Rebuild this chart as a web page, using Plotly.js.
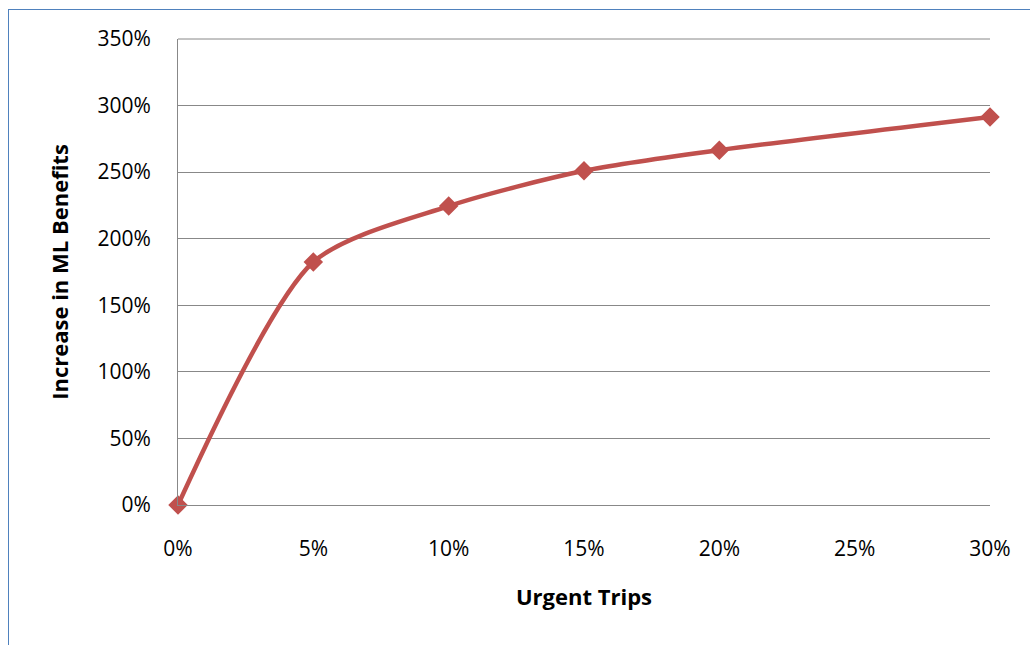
<!DOCTYPE html>
<html>
<head>
<meta charset="utf-8">
<script src="https://cdn.plot.ly/plotly-3.0.1.min.js"></script>
<style>
  html, body { margin: 0; padding: 0; background: #fff; }
  #wrap { position: relative; width: 1030px; height: 645px; }
  #chart { width: 1030px; height: 645px; }
  #frame { position: absolute; left: 8px; top: 9px; width: 1030px; height: 645px;
           border-top: 1.5px solid #4F81BD; border-left: 1.5px solid #4F81BD;
           pointer-events: none; box-sizing: border-box; }
</style>
</head>
<body>
<div id="wrap">
  <div id="chart"></div>
  <div id="frame"></div>
</div>
<script>
// Data
const urgentTrips = [0, 0.05, 0.10, 0.15, 0.20, 0.30];
const mlBenefitIncrease = [0, 1.825, 2.245, 2.51, 2.665, 2.915];
const xTickVals = [0, 0.05, 0.10, 0.15, 0.20, 0.25, 0.30];
const xTickText = ['0%', '5%', '10%', '15%', '20%', '25%', '30%'];
const yTickVals = [0, 0.5, 1, 1.5, 2, 2.5, 3, 3.5];
const yTickText = ['0%', '50%', '100%', '150%', '200%', '250%', '300%', '350%'];

const trace = {
  x: urgentTrips,
  y: mlBenefitIncrease,
  type: 'scatter',
  mode: 'lines+markers',
  line: { color: '#C0504D', width: 4.5, shape: 'spline', smoothing: 0.75 },
  marker: { symbol: 'diamond', size: 15, color: '#C0504D' },
  cliponaxis: false,
  hoverinfo: 'skip'
};

const gridCol = '#888888';

const layout = {
  width: 1030,
  height: 645,
  margin: { l: 178, r: 40, t: 39, b: 140 },
  paper_bgcolor: '#ffffff',
  plot_bgcolor: '#ffffff',
  showlegend: false,
  font: { family: 'Open Sans, Liberation Sans, sans-serif', color: '#000000', size: 22 },
  shapes: [{
    type: 'line', xref: 'paper', yref: 'paper', x0: 0, x1: 1, y0: 1, y1: 1,
    line: { color: gridCol, width: 1 }, layer: 'below'
  }],
  xaxis: {
    range: [0, 0.30],
    tickvals: xTickVals,
    ticktext: xTickText,
    showgrid: false,
    zeroline: false,
    showline: true,
    linecolor: gridCol,
    linewidth: 1,
    ticks: 'outside',
    ticklen: 25,
    tickcolor: 'rgba(0,0,0,0)',
    tickfont: { size: 21 },
    title: { text: '<b>Urgent Trips</b>', font: { size: 22 }, standoff: 28 }
  },
  yaxis: {
    range: [0, 3.5],
    tickvals: yTickVals,
    ticktext: yTickText,
    showgrid: true,
    gridcolor: gridCol,
    gridwidth: 1,
    zeroline: false,
    showline: true,
    linecolor: gridCol,
    linewidth: 1,
    ticks: 'outside',
    ticklen: 22,
    tickcolor: 'rgba(0,0,0,0)',
    tickfont: { size: 21 },
    title: { text: '<b>Increase in ML Benefits</b>', font: { size: 22 }, standoff: 22 }
  }
};

Plotly.newPlot('chart', [trace], layout, { displayModeBar: false, staticPlot: true });
</script>
</body>
</html>
